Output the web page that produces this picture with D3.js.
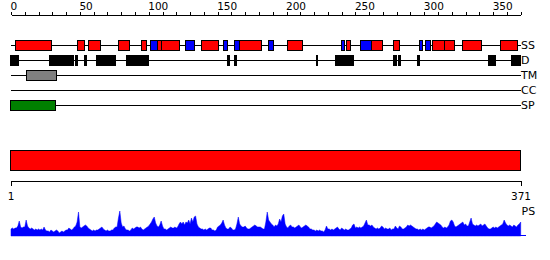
<!DOCTYPE html>
<html><head><meta charset="utf-8">
<script src="https://cdn.jsdelivr.net/npm/d3@7"></script>
<style>body{margin:0;background:#fff}svg{display:block}text{font-family:"DejaVu Sans",sans-serif;fill:#000}</style>
</head><body><svg id="c" width="550" height="260"></svg>
<script>
const seqLength = 371;
const axisTicks = d3.range(0, 371, 10);
const axisLabels = [0, 50, 100, 150, 200, 250, 300, 350];
const trackNames = ["SS", "D", "TM", "CC", "SP"];
const helixSegments = [[3,29.3],[48.1,53.2],[56.4,64.8],[78.2,86.2],[94.6,98.2],[106.5,109.4],[109.4,122.4],[138.2,150.5],[166.2,181.7],[200.6,211.7],[243.4,246.6],[261.6,269.8],[277.5,281.9],[305.8,315.0],[315.0,322.1],[327.6,341.4],[355.2,367.8]];
const strandSegments = [[101.4,106.5],[126.5,133.1],[154.1,157.3],[162.4,166.2],[187.1,190.9],[239.8,242.2],[253.6,261.6],[296.2,298.9],[300.8,304.6]];
const disorderSegments = [[-0.5,5.6],[27.8,45.5],[46.5,48.4],[53,54.9],[62.4,76],[83.7,100],[157.5,158.8],[162.4,163.6],[221.6,222.6],[235.2,248.8],[278,279.8],[281.4,282.8],[295.4,296.4],[346.5,351.8],[363.2,369.7]];
const tmSegments = [[11.1,33.2]];
const ccSegments = [];
const spSegments = [[-0.5,32.4]];
const domainSegments = [[-0.5,370.2]];
const psScores = [
7,8,7,8,8, 10,15,9, 8,9,9, 16,10, 8,7,8,7, 6,7,6,7,6,7,6, 9,6,
5,5,4,6,5,4,5,6,5,3,4,5,4,5,6,6, 8,7,6, 7,9,10, 14,24,9, 8,9,10,11,10,8,
7,6,5,6,5,6,6, 7,8,9,7, 6,5,6,5,5,6,6, 8,9,9,18,25,13,9, 10,7, 6,6,5,6, 8,7,
8,9,9,8,9, 7,6,7, 8,9,10,12,14,17,19,13, 10,9,11, 15,10, 7,7,6, 7,8,9,8,8,9,8,
9,12,14,12,14,11,14,13,16,12,18,14,19,20,12,9, 8,7,7,6,7,6, 7,8,8,6, 6,5,6,
9,10,11,13,16,11, 8,7,7, 9,8, 6,6,7, 12,19,12, 10,9,9,10,8, 7,7, 8,9,10,11,10,9,
9,9,8, 7,7, 14,24,16, 14,12,11, 9, 11,10,12, 17,14,20,22,12, 9,
8,10,11,9,9,8,9,10,11,9, 8,9,10,11,10,9, 7,7,6,6,5,6,5,6,5,5,4,6, 10,7,
7,6,7,6,7,8,9,7,6,8,7,6,7,6,6,7,8, 11,12,8, 9,8,9,8,9,10, 13,16,11, 11,10,11,9,
8,7,8,7,8,10,9,7,8,7,7, 8,6,7,7,10,8,7,10,9,7, 7,8,9,11,10,11,10,9,
8,7,7,6,7,6,7,6,7, 8,9,9,8,9, 10,12,14,13,12,11, 9,8,9,8,9, 11,15,16,14,10, 9,10,
11,12,13,14,11,12,10, 10,14,18,12, 11,10,11, 10,11,12,10,11,12,10, 8,7,7,
8,9,8,9,8,9,10, 11,12,16,13, 11,10,11,10,9,11,10,9,11, 12,14
];

const svg = d3.select("#c");
const x = d3.scaleLinear().domain([0, 370]).range([11, 520.7]);

// top axis
const topAxis = d3.axisTop(x).tickValues(axisTicks).tickSizeInner(3).tickSizeOuter(0)
  .tickFormat(d => axisLabels.includes(d) ? d : "");
const gTop = svg.append("g").attr("transform", "translate(0,14.5)").call(topAxis);
gTop.select(".domain").attr("stroke", "#000").attr("shape-rendering", "crispEdges");
gTop.selectAll(".tick line").attr("stroke", "#000").attr("shape-rendering", "crispEdges");
gTop.selectAll(".tick text").attr("text-anchor", "start").attr("x", -1).attr("y", -4.5)
  .attr("dy", 0).style("font-size", "10.5px").style("font-family", "DejaVu Sans");

// tracks
const trackY = {SS: 45.5, D: 60.5, TM: 75.5, CC: 90.5, SP: 105.5};
const trackLayers = [
  {name: "SS", segs: helixSegments, fill: "#ff0000"},
  {name: "SS", segs: strandSegments, fill: "#0000ff"},
  {name: "D", segs: disorderSegments, fill: "#000000"},
  {name: "TM", segs: tmSegments, fill: "#808080"},
  {name: "CC", segs: ccSegments, fill: "#ffa500"},
  {name: "SP", segs: spSegments, fill: "#008000"}
];
trackNames.forEach(n => {
  svg.append("line").attr("x1", x(0)).attr("x2", x(370)).attr("y1", trackY[n]).attr("y2", trackY[n])
    .attr("stroke", "#000").attr("shape-rendering", "crispEdges");
  svg.append("text").attr("x", 521).attr("y", trackY[n]).attr("dy", "0.36em")
    .style("font-size", "11px").text(n);
});
trackLayers.forEach(l => {
  svg.append("g").selectAll("rect").data(l.segs).join("rect")
    .attr("x", d => x(d[0])).attr("width", d => x(d[1]) - x(d[0]))
    .attr("y", trackY[l.name] - 5).attr("height", 10)
    .attr("fill", l.fill).attr("stroke", "#000").attr("shape-rendering", "crispEdges");
});

// domain bar
svg.append("g").selectAll("rect").data(domainSegments).join("rect")
  .attr("x", d => x(d[0])).attr("width", d => x(d[1]) - x(d[0]))
  .attr("y", 150.5).attr("height", 20)
  .attr("fill", "#ff0000").attr("stroke", "#000").attr("shape-rendering", "crispEdges");

// bottom axis
const xb = d3.scaleLinear().domain([1, seqLength]).range([10.5, 520.5]);
const botAxis = d3.axisBottom(xb).tickValues([1, seqLength]).tickSizeInner(0).tickSizeOuter(5).tickPadding(12);
const gBot = svg.append("g").attr("transform", "translate(0,180.5)").call(botAxis);
gBot.select(".domain").attr("stroke", "#000").attr("shape-rendering", "crispEdges");
gBot.selectAll(".tick text").style("font-size", "10.5px").style("font-family", "DejaVu Sans");

// PS profile
const y = d3.scaleLinear().domain([0, 26]).range([236, 210]);
const area = d3.area().x((d, i) => x(i)).y0(y(0)).y1(d => y(d));
svg.append("path").datum(psScores).attr("d", area).attr("fill", "#0000ff").attr("stroke", "#0000ff").attr("stroke-width", 0.5);
svg.append("line").attr("x1", x(0)).attr("x2", x(370) + 5).attr("y1", 235.5).attr("y2", 235.5)
  .attr("stroke", "#0000ff").attr("shape-rendering", "crispEdges");
svg.append("text").attr("x", 521.5).attr("y", 215).style("font-size", "11px").text("PS");
</script></body></html>
